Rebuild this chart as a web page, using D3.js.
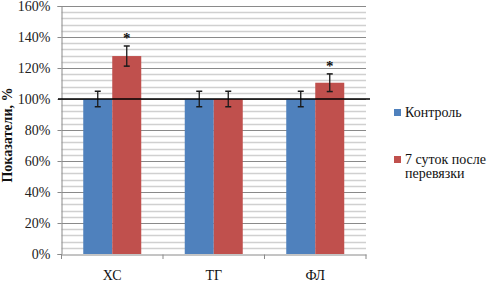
<!DOCTYPE html>
<html><head><meta charset="utf-8">
<script src="https://cdn.jsdelivr.net/npm/d3@7"></script>
<style>body{margin:0;background:#fff}svg{display:block}</style>
</head><body><svg id="c" width="487" height="283"></svg>
<script>
const categories = ["ХС", "ТГ", "ФЛ"];
const seriesNames = ["Контроль", "7 суток после перевязки"];
const controlValues = [100, 100, 100];
const controlErrors = [5, 5, 5];
const ligationValues = [127.7, 100, 110.5];
const ligationErrors = [6.5, 5, 5.7];
const significant = [true, false, true];
const yTicks = [0, 20, 40, 60, 80, 100, 120, 140, 160];
const colors = ["#4F81BD", "#C0504D"];
const FONT = "'Times New Roman', 'Liberation Serif', 'DejaVu Serif', serif";

const svg = d3.select("#c");
const x0 = d3.scaleBand().domain(categories).range([61.5, 366]).paddingInner(0).paddingOuter(0);
const x1 = d3.scaleBand().domain([0, 1]).range([0, x0.bandwidth()]).paddingInner(0).paddingOuter(0.75);
const y = d3.scaleLinear().domain([0, 160]).range([254, 6]);

// minor gridlines
const minor = d3.range(0, 161, 4).filter(v => v % 20 !== 0);
svg.append("g").selectAll("line").data(minor).join("line")
  .attr("x1", 61.5).attr("x2", 366).attr("y1", d => Math.round(y(d)) + 0.5).attr("y2", d => Math.round(y(d)) + 0.5)
  .attr("stroke", "#d0d0d0").attr("stroke-width", 1.4);
// major gridlines
svg.append("g").selectAll("line").data(yTicks.filter(v => v > 0)).join("line")
  .attr("x1", 61.5).attr("x2", 366).attr("y1", d => Math.round(y(d)) + 0.5).attr("y2", d => Math.round(y(d)) + 0.5)
  .attr("stroke", "#8a8a8a").attr("stroke-width", 1);

// y axis
const yAxis = d3.axisLeft(y).tickValues(yTicks).tickFormat(d => d + "%").tickSize(4).tickPadding(7);
const ga = svg.append("g").attr("transform", "translate(61.5,0)").call(yAxis).attr("font-family", FONT);
ga.select(".domain").attr("stroke", "#8a8a8a");
ga.selectAll(".tick line").attr("stroke", "#8a8a8a");
ga.selectAll("text").attr("font-size", 14).attr("fill", "#222");

// x axis
const xAxis = d3.axisBottom(x0).tickSize(0).tickPadding(16);
const gx = svg.append("g").attr("transform", "translate(0,254.5)").call(xAxis).attr("font-family", FONT);
gx.select(".domain").attr("stroke", "#8a8a8a");
gx.selectAll("text").attr("font-size", 14).attr("fill", "#111");
svg.append("g").selectAll("line").data([0,1,2,3]).join("line")
  .attr("x1", i => i < 3 ? x0(categories[i]) : x0.range()[1])
  .attr("x2", i => i < 3 ? x0(categories[i]) : x0.range()[1])
  .attr("y1", 254.5).attr("y2", 259).attr("stroke", "#8a8a8a");

// bars
const data = categories.map((c, i) => ({c, vals: [controlValues[i], ligationValues[i]], errs: [controlErrors[i], ligationErrors[i]], sig: significant[i]}));
const grp = svg.append("g").selectAll("g").data(data).join("g").attr("transform", d => `translate(${x0(d.c)},0)`);
grp.selectAll("rect").data(d => d.vals.map((v, s) => ({v, s}))).join("rect")
  .attr("x", d => x1(d.s)).attr("width", x1.bandwidth())
  .attr("y", d => y(d.v)).attr("height", d => y(0) - y(d.v))
  .attr("fill", d => colors[d.s]);

// 100% reference line
svg.append("line").attr("x1", 58).attr("x2", 370).attr("y1", y(100)).attr("y2", y(100)).attr("stroke", "#000").attr("stroke-width", 1.5);

// error bars
const eb = grp.selectAll("g.eb").data(d => d.vals.map((v, s) => ({v, s, e: d.errs[s]}))).join("g").attr("class", "eb");
eb.append("line").attr("x1", d => x1(d.s) + x1.bandwidth()/2).attr("x2", d => x1(d.s) + x1.bandwidth()/2)
  .attr("y1", d => y(d.v + d.e)).attr("y2", d => y(d.v - d.e)).attr("stroke", "#1a1a1a").attr("stroke-width", 1.3);
eb.selectAll("line.cap").data(d => [d.v + d.e, d.v - d.e].map(t => ({t, s: d.s}))).join("line").attr("class", "cap")
  .attr("x1", d => x1(d.s) + x1.bandwidth()/2 - 3).attr("x2", d => x1(d.s) + x1.bandwidth()/2 + 3)
  .attr("y1", d => y(d.t)).attr("y2", d => y(d.t)).attr("stroke", "#1a1a1a").attr("stroke-width", 1.5);

// significance stars
grp.filter(d => d.sig).append("text")
  .attr("x", x1(1) + x1.bandwidth()/2)
  .attr("y", d => y(d.vals[1] + d.errs[1]) - 3)
  .attr("text-anchor", "middle").attr("font-family", FONT).attr("font-size", 15).attr("font-weight", "bold").attr("fill", "#111").text("*");

// y title
svg.append("text").attr("transform", "translate(12,135) rotate(-90)").attr("text-anchor", "middle").attr("font-family", FONT)
  .attr("font-size", 14).attr("font-weight", "bold").attr("fill", "#111").text("Показатели, %");

// legend
const lg = svg.append("g").attr("font-family", FONT).attr("font-size", 14).attr("fill", "#111");
lg.append("rect").attr("x", 394).attr("y", 109).attr("width", 7).attr("height", 7).attr("fill", colors[0]);
lg.append("text").attr("x", 405).attr("y", 117).text(seriesNames[0]);
lg.append("rect").attr("x", 394).attr("y", 156).attr("width", 7).attr("height", 7).attr("fill", colors[1]);
lg.append("text").attr("x", 405).attr("y", 164).text("7 суток после");
lg.append("text").attr("x", 405).attr("y", 178).text("перевязки");
</script></body></html>
